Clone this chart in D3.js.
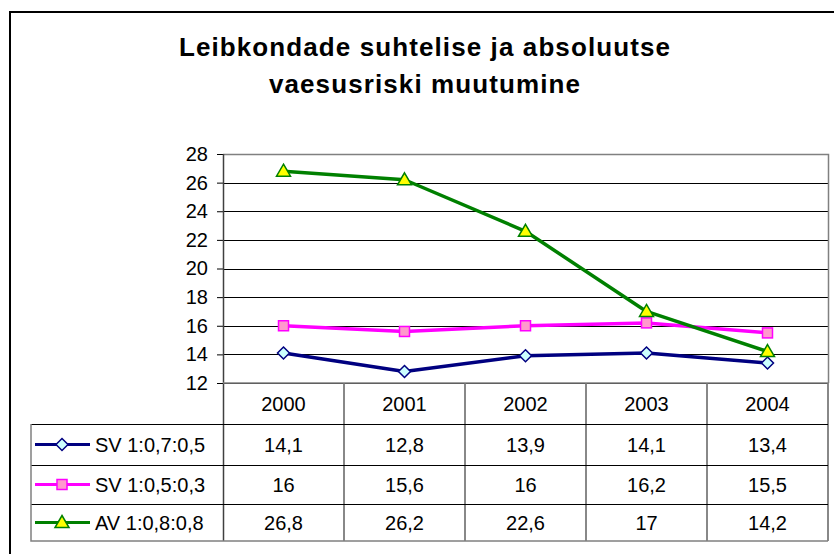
<!DOCTYPE html>
<html><head><meta charset="utf-8">
<script src="https://cdn.jsdelivr.net/npm/d3@7"></script>
<style>body{margin:0;background:#fff}svg{display:block;font-family:Arial,"Liberation Sans",sans-serif}</style>
</head><body>
<script>
const titleLines = ["Leibkondade suhtelise ja absoluutse", "vaesusriski muutumine"];
const years = ["2000", "2001", "2002", "2003", "2004"];
const seriesNames = ["SV 1:0,7:0,5", "SV 1:0,5:0,3", "AV 1:0,8:0,8"];
const sv1 = [14.1, 12.8, 13.9, 14.1, 13.4];
const sv2 = [16, 15.6, 16, 16.2, 15.5];
const av = [26.8, 26.2, 22.6, 17, 14.2];
const sv1Labels = ["14,1", "12,8", "13,9", "14,1", "13,4"];
const sv2Labels = ["16", "15,6", "16", "16,2", "15,5"];
const avLabels = ["26,8", "26,2", "22,6", "17", "14,2"];
const yTicks = [12, 14, 16, 18, 20, 22, 24, 26, 28];

const series = [
  {name: seriesNames[0], values: sv1, labels: sv1Labels, stroke: "#000080", fill: "#CCFFFF", shape: "diamond"},
  {name: seriesNames[1], values: sv2, labels: sv2Labels, stroke: "#FF00FF", fill: "#FF99CC", shape: "square"},
  {name: seriesNames[2], values: av, labels: avLabels, stroke: "#008000", fill: "#FFFF00", shape: "triangle"}
];

const W = 834, H = 554;
const plot = {l: 223, r: 828, t: 154, b: 383};
const rowsY = [383, 424, 465, 504, 541];
const tableLeft = 31;

const svg = d3.select("body").append("svg").attr("width", W).attr("height", H);
svg.append("rect").attr("width", W).attr("height", H).attr("fill", "#fff");
svg.append("rect").attr("x", 10).attr("y", 12).attr("width", 900).attr("height", 600)
  .attr("fill", "none").attr("stroke", "#000").attr("stroke-width", 2);

// title
svg.append("g").selectAll("text").data(titleLines).join("text")
  .attr("x", 425).attr("y", (d, i) => 56 + i * 37)
  .attr("text-anchor", "middle").attr("font-weight", "bold").attr("font-size", 26)
  .attr("letter-spacing", 1.1).text(d => d);

const x = d3.scaleBand().domain(years).range([plot.l, plot.r]);
const y = d3.scaleLinear().domain([12, 28]).range([plot.b, plot.t]);

// gridlines
svg.append("g").selectAll("line").data(yTicks).join("line")
  .attr("x1", plot.l).attr("x2", plot.r)
  .attr("y1", d => Math.round(y(d)) + 0.5).attr("y2", d => Math.round(y(d)) + 0.5)
  .attr("stroke", "#000").attr("stroke-width", 1);

// plot border (top/right)
svg.append("path").attr("d", `M${plot.l},${plot.t + 0.5}H${plot.r + 0.5}V${plot.b}`)
  .attr("fill", "none").attr("stroke", "#808080").attr("stroke-width", 1.5);

// y axis
const yAxis = d3.axisLeft(y).tickValues(yTicks).tickSize(6).tickPadding(9);
const gy = svg.append("g").attr("transform", `translate(${plot.l},0)`).call(yAxis);
gy.select(".domain").remove();
gy.selectAll(".tick line").attr("stroke", "#000");
gy.selectAll(".tick text").attr("font-size", 20).attr("font-family", "Arial, 'Liberation Sans', sans-serif").attr("fill", "#000");
svg.append("line").attr("x1", plot.l + 0.5).attr("x2", plot.l + 0.5).attr("y1", plot.t).attr("y2", rowsY[4])
  .attr("stroke", "#404040").attr("stroke-width", 1.5);

// table lines
const tg = svg.append("g");
const colEdges = years.map(d => x(d) + x.bandwidth());
tg.selectAll("line.v").data(colEdges).join("line").attr("class", "v")
  .attr("x1", d => d).attr("x2", d => d).attr("y1", rowsY[0]).attr("y2", rowsY[4])
  .attr("stroke", "#606060").attr("stroke-width", 1.5);
tg.selectAll("line.h").data(rowsY.slice(1, 4)).join("line").attr("class", "h")
  .attr("x1", tableLeft).attr("x2", plot.r).attr("y1", d => d + 0.5).attr("y2", d => d + 0.5)
  .attr("stroke", "#000").attr("stroke-width", 1);
tg.append("line").attr("x1", plot.l).attr("x2", plot.r).attr("y1", rowsY[0]).attr("y2", rowsY[0])
  .attr("stroke", "#808080").attr("stroke-width", 1.5);
tg.append("path").attr("d", `M${tableLeft},${rowsY[1]}V${rowsY[4]}H${plot.r}`)
  .attr("fill", "none").attr("stroke", "#808080").attr("stroke-width", 1.5);

// header
tg.selectAll("text.hd").data(years).join("text").attr("class", "hd")
  .attr("x", d => x(d) + x.bandwidth() / 2).attr("y", (rowsY[0] + rowsY[1]) / 2)
  .attr("dy", "0.36em").attr("text-anchor", "middle").attr("font-size", 20).text(d => d);

function marker(sel, s) {
  if (s.shape === "diamond") {
    sel.append("path").attr("d", "M0,-6L6,0L0,6L-6,0Z");
  } else if (s.shape === "square") {
    sel.append("rect").attr("x", -5).attr("y", -5).attr("width", 10).attr("height", 10);
  } else {
    sel.append("path").attr("d", "M0,-7L7,5L-7,5Z");
  }
  sel.selectAll("path,rect").attr("fill", s.fill).attr("stroke", s.stroke).attr("stroke-width", 1.5);
}

series.forEach((s, i) => {
  const cy = (rowsY[i + 1] + rowsY[i + 2]) / 2;
  // legend key
  tg.append("line").attr("x1", 35).attr("x2", 90).attr("y1", cy).attr("y2", cy)
    .attr("stroke", s.stroke).attr("stroke-width", 3);
  marker(tg.append("g").attr("transform", `translate(62,${cy})`), s);
  tg.append("text").attr("x", 95).attr("y", cy).attr("dy", "0.36em").attr("font-size", 20).text(s.name);
  tg.selectAll(null).data(s.labels).join("text")
    .attr("x", (d, j) => x(years[j]) + x.bandwidth() / 2).attr("y", cy).attr("dy", "0.36em")
    .attr("text-anchor", "middle").attr("font-size", 20).text(d => d);
});

// lines
const line = d3.line().x((d, j) => x(years[j]) + x.bandwidth() / 2).y(d => y(d));
const lg = svg.append("g");
series.forEach(s => {
  lg.append("path").datum(s.values).attr("d", line).attr("fill", "none")
    .attr("stroke", s.stroke).attr("stroke-width", 3.5).attr("stroke-linejoin", "round");
});
series.forEach(s => {
  s.values.forEach((v, j) => {
    marker(lg.append("g").attr("transform", `translate(${x(years[j]) + x.bandwidth() / 2},${y(v)})`), s);
  });
});
</script>
</body></html>
